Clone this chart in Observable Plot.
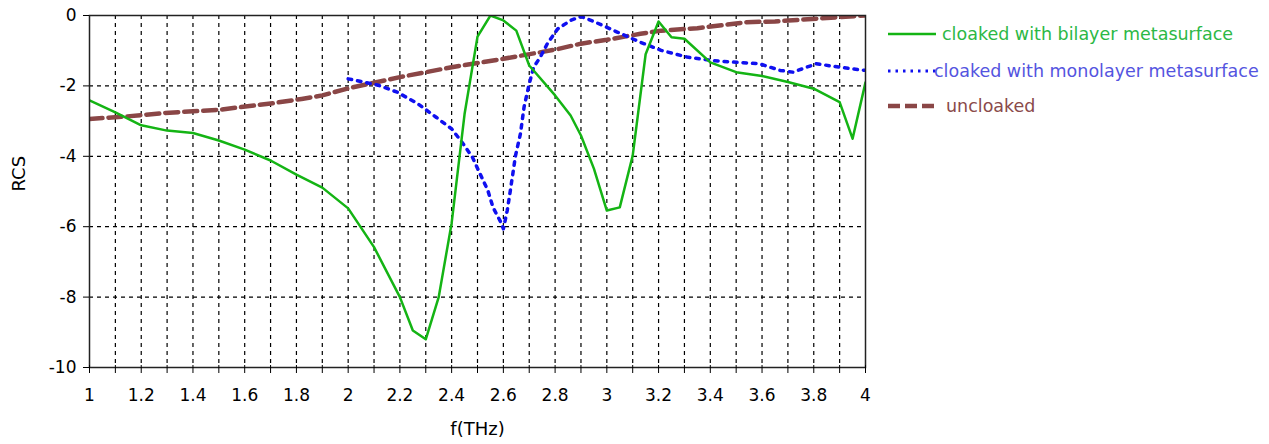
<!DOCTYPE html>
<html>
<head>
<meta charset="utf-8">
<script src="https://cdn.jsdelivr.net/npm/d3@7"></script>
<script src="https://cdn.jsdelivr.net/npm/@observablehq/plot@0.6"></script>
<style>
  html, body { margin: 0; padding: 0; background: #fff; }
  #wrap { position: relative; width: 1269px; height: 444px; }
  #legend { position: absolute; left: 0; top: 0; width: 1269px; height: 444px; pointer-events: none; }
  #legend div { position: absolute; font-family: "DejaVu Sans", sans-serif; font-size: 17.5px; white-space: nowrap; line-height: 20px; }
  #legend svg { position: absolute; }
</style>
</head>
<body>
<div id="wrap"></div>
<script>
// ---- data ----
const fBilayer = [1.0, 1.1, 1.2, 1.3, 1.4, 1.5, 1.6, 1.7, 1.8, 1.9, 2.0, 2.1, 2.2, 2.25, 2.3, 2.35, 2.4, 2.45, 2.5, 2.55, 2.6, 2.65, 2.7, 2.8, 2.86, 2.9, 2.95, 3.0, 3.05, 3.1, 3.15, 3.2, 3.25, 3.3, 3.4, 3.5, 3.6, 3.7, 3.8, 3.9, 3.95, 4.0];
const rcsBilayer = [-2.41, -2.75, -3.12, -3.27, -3.34, -3.55, -3.81, -4.12, -4.52, -4.89, -5.48, -6.58, -8.0, -8.95, -9.2, -8.0, -5.9, -2.8, -0.6, 0.0, -0.14, -0.43, -1.42, -2.27, -2.84, -3.41, -4.35, -5.54, -5.45, -3.98, -1.1, -0.17, -0.62, -0.66, -1.33, -1.61, -1.72, -1.89, -2.08, -2.46, -3.5, -1.9];

const fMonolayer = [2.0, 2.06, 2.12, 2.19, 2.27, 2.34, 2.40, 2.44, 2.48, 2.51, 2.54, 2.56, 2.59, 2.60, 2.615, 2.627, 2.647, 2.666, 2.68, 2.70, 2.717, 2.743, 2.77, 2.81, 2.86, 2.90, 2.956, 3.04, 3.13, 3.21, 3.31, 3.41, 3.50, 3.59, 3.67, 3.72, 3.81, 3.90, 4.0];
const rcsMonolayer = [-1.8, -1.89, -1.99, -2.18, -2.51, -2.89, -3.22, -3.6, -4.02, -4.5, -4.97, -5.45, -5.87, -6.06, -5.54, -4.97, -3.98, -3.36, -2.6, -1.94, -1.47, -1.18, -0.8, -0.38, -0.14, -0.03, -0.19, -0.47, -0.76, -0.99, -1.18, -1.28, -1.33, -1.37, -1.56, -1.61, -1.37, -1.47, -1.56];

const fUncloaked = [1.0, 1.14, 1.29, 1.5, 1.71, 1.82, 1.9, 2.0, 2.2, 2.4, 2.6, 2.8, 2.9, 3.0, 3.13, 3.21, 3.35, 3.54, 3.65, 4.0];
const rcsUncloaked = [-2.94, -2.87, -2.77, -2.68, -2.49, -2.37, -2.27, -2.07, -1.75, -1.47, -1.23, -0.97, -0.8, -0.69, -0.52, -0.43, -0.36, -0.19, -0.17, 0.0];

const seriesNames = ["cloaked with bilayer metasurface", "cloaked with monolayer metasurface", "uncloaked"];
const xMinorTicks = d3.range(10, 41).map(d => d / 10);
const xMajorTicks = d3.range(5, 21).map(d => d / 5);
const yTicks = [0, -2, -4, -6, -8, -10];
const yGrid = [-2, -4, -6, -8];
const xGrid = d3.range(11, 40).map(d => d / 10);

const bilayer = fBilayer.map((f, i) => ({f, rcs: rcsBilayer[i]}));
const monolayer = fMonolayer.map((f, i) => ({f, rcs: rcsMonolayer[i]}));
const uncloaked = fUncloaked.map((f, i) => ({f, rcs: rcsUncloaked[i]}));

const cGreen = "#14b414", cBlue = "#1010f0", cBrown = "#8a4646";

const fontFamily = "'DejaVu Sans', sans-serif";
const chart = Plot.plot({
  width: 1269,
  height: 444,
  marginLeft: 89,
  marginRight: 404,
  marginTop: 15,
  marginBottom: 77,
  x: {domain: [1, 4]},
  y: {domain: [-10, 0]},
  style: {fontFamily, fontSize: "17px", color: "#000", background: "#fff", overflow: "visible"},
  marks: [
    Plot.gridX(xGrid, {stroke: "#000", strokeOpacity: 1, strokeWidth: 1.2, strokeDasharray: "4,4"}),
    Plot.gridY(yGrid, {stroke: "#000", strokeOpacity: 1, strokeWidth: 1.2, strokeDasharray: "4,4"}),
    Plot.line(uncloaked, {x: "f", y: "rcs", stroke: cBrown, strokeWidth: 4.5, strokeDasharray: "13,6", clip: true}),
    Plot.line(monolayer, {x: "f", y: "rcs", stroke: cBlue, strokeWidth: 3.5, strokeDasharray: "3.5,6", clip: true}),
    Plot.line(bilayer, {x: "f", y: "rcs", stroke: cGreen, strokeWidth: 2.5, clip: true}),
    Plot.frame({stroke: "#222", strokeWidth: 1.5}),
    Plot.axisX(xMinorTicks, {tickSize: 8, tickFormat: () => "", label: null, dy: -2}),
    Plot.axisX(xMajorTicks, {tickSize: 0, tickPadding: 21, tickFormat: d => String(+d.toFixed(1)), label: null}),
    Plot.axisY(yTicks, {tickSize: 6, tickPadding: 7, tickFormat: d => String(d), label: null}),
    Plot.text(["f(THz)"], {frameAnchor: "bottom", dy: 67, fontSize: 18}),
    Plot.text(["RCS"], {frameAnchor: "left", dx: -70, rotate: -90, fontSize: 18})
  ]
});
const wrap = document.getElementById("wrap");
wrap.appendChild(chart);

// ---- legend (HTML overlay) ----
const legend = document.createElement("div");
legend.id = "legend";
const items = [
  {name: seriesNames[0], color: cGreen, text: "#2cb845", dash: null, w: 2.5, top: 24, sx: 888, tx: 942},
  {name: seriesNames[1], color: cBlue, text: "#5454e0", dash: "2.5,5", w: 3, top: 61, sx: 888, tx: 934},
  {name: seriesNames[2], color: cBrown, text: "#8a4a4a", dash: "12,5", w: 4.5, top: 96, sx: 888, tx: 946}
];
for (const it of items) {
  const svg = d3.create("svg").attr("width", 50).attr("height", 20)
    .style("left", it.sx + "px").style("top", it.top + "px");
  svg.append("line").attr("x1", 0).attr("x2", 48).attr("y1", 10).attr("y2", 10)
    .attr("stroke", it.color).attr("stroke-width", it.w)
    .attr("stroke-dasharray", it.dash);
  legend.appendChild(svg.node());
  const t = document.createElement("div");
  t.textContent = it.name;
  t.style.left = it.tx + "px";
  t.style.top = it.top + "px";
  t.style.color = it.text;
  legend.appendChild(t);
}
wrap.appendChild(legend);
</script>
</body>
</html>
